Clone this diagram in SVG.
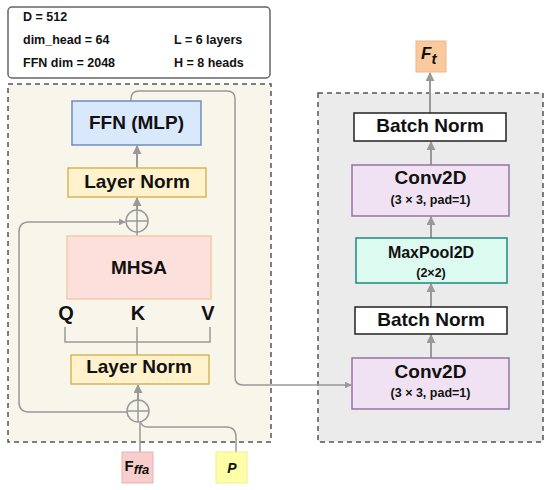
<svg xmlns="http://www.w3.org/2000/svg" width="550" height="490" viewBox="0 0 550 490">
<defs>
<marker id="arr" viewBox="0 0 10 10" refX="9" refY="5" markerWidth="4.5" markerHeight="4.5" orient="auto-start-reverse">
<path d="M0,0 L10,5 L0,10 Z" fill="#999"/>
</marker>
<style>
text{font-family:"Liberation Sans",Arial,sans-serif;font-weight:bold;fill:#111}
.c{text-anchor:middle}
.ln{fill:none;stroke:#999;stroke-width:2}
.dash{stroke:#555;stroke-width:1.5;stroke-dasharray:5 4}
.info{font-size:12.5px}
.ln2{fill:none;stroke:#999;stroke-width:1.5}
.big{font-size:19px}
.sub{font-size:12.5px}
</style>
</defs>
<rect width="550" height="490" fill="#fff"/>

<g id="info">
<rect x="8" y="7" width="262" height="71" rx="4" fill="#fff" stroke="#666" stroke-width="1.5"/>
<text class="info" x="23" y="21">D = 512</text>
<text class="info" x="23" y="44">dim_head = 64</text>
<text class="info" x="174" y="44">L = 6 layers</text>
<text class="info" x="23" y="67">FFN dim = 2048</text>
<text class="info" x="174" y="67">H = 8 heads</text>
</g>

<g id="transformer-block">
<rect x="8" y="84" width="263" height="358" fill="#f8f5ea" class="dash"/>
</g>
<g id="cnn-block">
<rect x="318" y="93" width="225" height="349" fill="#ebebeb" class="dash"/>
</g>

<g id="connectors">
<path class="ln2" d="M140,452 V423"/>
<path class="ln2" d="M236,452 V437 Q236,427 226,427 H148 Q141,427 140,420"/>
<path class="ln" d="M138,400 V385" marker-end="url(#arr)"/>
<path class="ln2" d="M137,355 V327"/>
<path class="ln2" d="M65,327 V342 H210 V327"/>
<path class="ln2" d="M127,412 H29 Q19,412 19,402 V232 Q19,222 29,222 H125" marker-end="url(#arr)"/>
<path class="ln2" d="M137,236 V210"/>
<path class="ln" d="M137,210 V198" marker-end="url(#arr)"/>
<path class="ln" d="M137,168 V146" marker-end="url(#arr)"/>
<path class="ln2" d="M131,101 V99 Q131,91 139,91 H227 Q235,91 235,99 V377 Q235,385 243,385 H351" marker-end="url(#arr)"/>
<path class="ln" d="M431,358 V335" marker-end="url(#arr)"/>
<path class="ln" d="M431,307 V284" marker-end="url(#arr)"/>
<path class="ln" d="M431,238 V217" marker-end="url(#arr)"/>
<path class="ln" d="M431,165 V142" marker-end="url(#arr)"/>
<path class="ln" d="M430,113 V73" marker-end="url(#arr)"/>
</g>

<g id="ffn">
<rect x="72" y="101" width="129" height="44" fill="#dae8fc" stroke="#6c8ebf" stroke-width="1.5"/>
<text class="c big" x="136.5" y="129">FFN (MLP)</text>
</g>
<g id="ln-top">
<rect x="68" y="168" width="138" height="29" fill="#fff2cc" stroke="#d6b656" stroke-width="1.5"/>
<text class="c big" x="137" y="188">Layer Norm</text>
</g>
<g id="add-top">
<circle cx="137" cy="221" r="11" fill="#f8f5ea" stroke="#999" stroke-width="1.5"/>
<path d="M126,221 H148 M137,210 V232" stroke="#999" stroke-width="1.5"/>
</g>
<g id="mhsa">
<rect x="67" y="236" width="144" height="63" fill="#fde0dc" stroke="#f0cca8" stroke-width="1.5"/>
<text class="c" x="139" y="274" font-size="19">MHSA</text>
</g>
<g id="qkv">
<text class="c" x="66" y="320" font-size="20">Q</text>
<text class="c" x="138" y="320" font-size="20">K</text>
<text class="c" x="208" y="320" font-size="20">V</text>
</g>
<g id="ln-bottom">
<rect x="71" y="355" width="138" height="29" fill="#fff2cc" stroke="#d6b656" stroke-width="1.5"/>
<text class="c big" x="139" y="373">Layer Norm</text>
</g>
<g id="add-bottom">
<circle cx="138" cy="411" r="11" fill="#f8f5ea" stroke="#999" stroke-width="1.5"/>
<path d="M127,411 H149 M138,400 V422" stroke="#999" stroke-width="1.5"/>
</g>
<g id="f-ffa">
<rect x="122" y="452" width="31" height="31" fill="#f8cecc" stroke="#eab0ae" stroke-width="1"/>
<text x="124.5" y="471" font-size="15">F<tspan font-size="13" font-style="italic" dy="3">ffa</tspan></text>
</g>
<g id="p-in">
<rect x="216" y="452" width="31" height="31" fill="#ffffa8" stroke="#eeee90" stroke-width="1"/>
<text class="c" x="232" y="473" font-size="14" font-style="italic">P</text>
</g>

<g id="conv-bottom">
<rect x="352" y="358" width="157" height="51" fill="#f0e2f3" stroke="#9673a6" stroke-width="1.5"/>
<text class="c big" x="430.5" y="378">Conv2D</text>
<text class="c sub" x="430.5" y="397">(3 × 3, pad=1)</text>
</g>
<g id="bn-bottom">
<rect x="355" y="307" width="152" height="27" fill="#fff" stroke="#222" stroke-width="1.5"/>
<text class="c big" x="431" y="326">Batch Norm</text>
</g>
<g id="maxpool">
<rect x="356" y="238" width="151" height="45" fill="#dcfaf0" stroke="#1a8a80" stroke-width="1.5"/>
<text class="c" x="431" y="258" font-size="16">MaxPool2D</text>
<text class="c sub" x="431" y="277">(2×2)</text>
</g>
<g id="conv-top">
<rect x="352" y="165" width="157" height="51" fill="#f0e2f3" stroke="#9673a6" stroke-width="1.5"/>
<text class="c big" x="430.5" y="184">Conv2D</text>
<text class="c sub" x="430.5" y="204">(3 × 3, pad=1)</text>
</g>
<g id="bn-top">
<rect x="354" y="113" width="152" height="28" fill="#fff" stroke="#222" stroke-width="1.5"/>
<text class="c big" x="430" y="132">Batch Norm</text>
</g>
<g id="f-t">
<rect x="416" y="41" width="30" height="31" fill="#fac99d" stroke="#f0b585" stroke-width="1"/>
<text x="421" y="59" font-size="17" font-style="italic">F<tspan font-size="15" dy="5">t</tspan></text>
</g>
</svg>
